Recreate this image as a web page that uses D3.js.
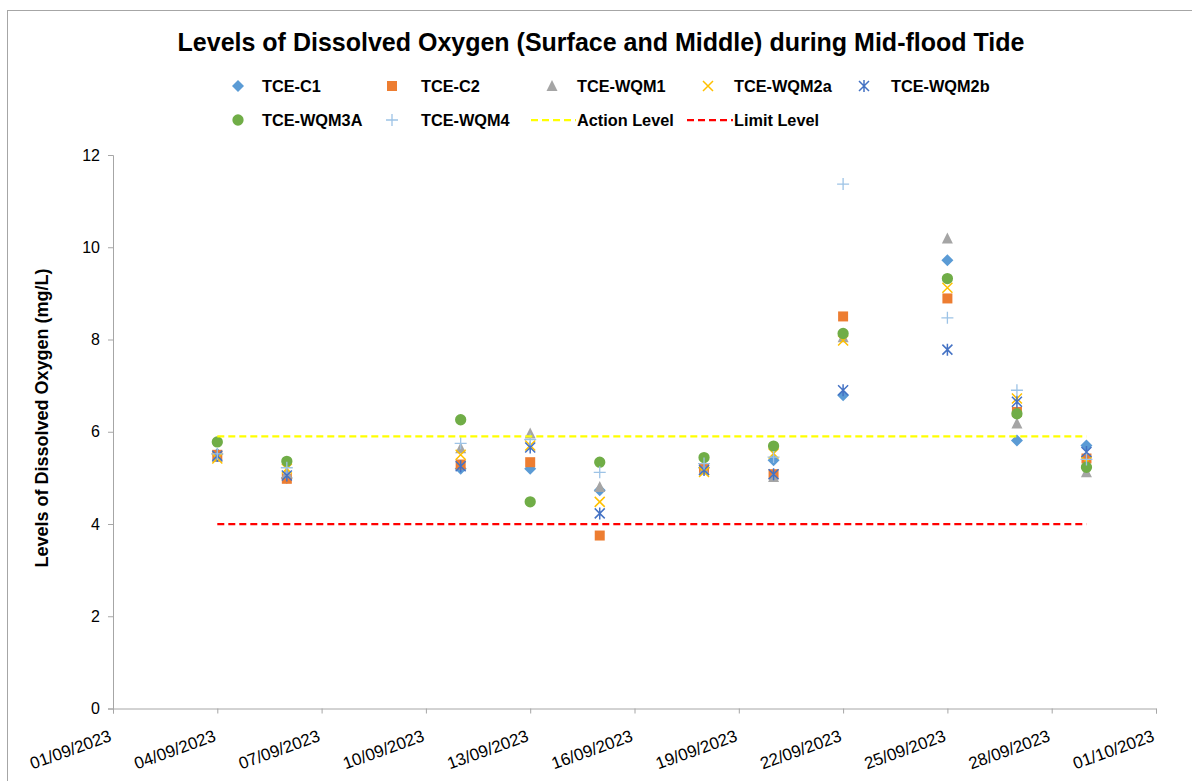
<!DOCTYPE html>
<html>
<head>
<meta charset="utf-8">
<script src="https://cdn.jsdelivr.net/npm/d3@7"></script>
<style>
  body { margin: 0; background: #fff; }
  text { font-family: "Liberation Sans", Arial, sans-serif; }
</style>
</head>
<body>
<svg id="js-svg" width="1192" height="781"></svg>
<script>
const width = 1192;
const height = 781;

// sampling days (dd/mm, 2023)
const sampleDates = ["04/09", "06/09", "11/09", "13/09", "15/09", "18/09", "20/09", "22/09", "25/09", "27/09", "29/09"];

const tceC1 = [5.52, 5.0, 5.2, 5.2, 4.73, 5.22, 5.38, 6.79, 9.72, 5.81, 5.7];
const tceC2 = [5.5, 4.98, 5.29, 5.34, 3.75, 5.2, 5.08, 8.5, 8.89, 6.43, 5.42];
const tceWqm1 = [5.45, 5.1, 5.64, 5.96, 4.8, 5.18, 5.02, 8.05, 10.19, 6.18, 5.12];
const tceWqm2a = [5.42, 5.2, 5.5, 5.7, 4.48, 5.13, 5.53, 7.98, 9.12, 6.72, 5.35];
const tceWqm2b = [5.48, 5.05, 5.25, 5.66, 4.23, 5.17, 5.08, 6.9, 7.78, 6.65, 5.56];
const tceWqm3a = [5.78, 5.36, 6.26, 4.48, 5.34, 5.44, 5.69, 8.13, 9.32, 6.39, 5.23];
const tceWqm4 = [5.52, 5.22, 5.75, 5.83, 5.12, 5.31, 5.45, 11.37, 8.47, 6.9, 5.4];

const actionLevel = 5.9;
const limitLevel = 4;
const levelDates = ["04/09", "29/09"];

const xTickLabels = ["01/09/2023", "04/09/2023", "07/09/2023", "10/09/2023", "13/09/2023", "16/09/2023",
  "19/09/2023", "22/09/2023", "25/09/2023", "28/09/2023", "01/10/2023"];
const yTickValues = [0, 2, 4, 6, 8, 10, 12];

const parseFull = d3.timeParse("%d/%m/%Y");
const parseDay = (s) => parseFull(s + "/2023");

const series = [
  { name: "TCE-C1", values: tceC1, shape: "diamond", color: "#5B9BD5" },
  { name: "TCE-C2", values: tceC2, shape: "square", color: "#ED7D31" },
  { name: "TCE-WQM1", values: tceWqm1, shape: "triangle", color: "#A5A5A5" },
  { name: "TCE-WQM2a", values: tceWqm2a, shape: "x", color: "#FFC000" },
  { name: "TCE-WQM2b", values: tceWqm2b, shape: "star", color: "#4472C4" },
  { name: "TCE-WQM3A", values: tceWqm3a, shape: "circle", color: "#70AD47" },
  { name: "TCE-WQM4", values: tceWqm4, shape: "plus", color: "#9DC3E6" }
];

const svg = d3.select("#js-svg");

// chart border (runs off the picture at right/bottom)
svg.append("rect")
  .attr("x", 7.5).attr("y", 10.5)
  .attr("width", width + 20).attr("height", height + 20)
  .style("fill", "none")
  .style("stroke", "#a6a6a6")
  .style("stroke-width", "1px");

const x = d3.scaleTime()
  .domain([parseFull("01/09/2023"), parseFull("01/10/2023")])
  .range([113, 1156]);
const y = d3.scaleLinear().domain([0, 12]).range([708.5, 155]);

// title
svg.append("text")
  .attr("x", 601).attr("y", 51)
  .attr("text-anchor", "middle")
  .style("font-size", "25px")
  .style("font-weight", "bold")
  .text("Levels of Dissolved Oxygen (Surface and Middle) during Mid-flood Tide");

// axes
const yAxis = svg.append("g")
  .attr("transform", "translate(113,0)")
  .call(d3.axisLeft(y).tickValues(yTickValues).tickSize(5).tickPadding(8));
const xAxis = svg.append("g")
  .attr("transform", `translate(0,${y(0)})`)
  .call(d3.axisBottom(x).tickValues(xTickLabels.map(parseFull)).tickSize(5)
    .tickFormat(d3.timeFormat("%d/%m/%Y")));

[yAxis, xAxis].forEach((ax) => {
  ax.select(".domain").attr("stroke", "#a6a6a6");
  ax.selectAll(".tick line").attr("stroke", "#a6a6a6");
  ax.selectAll(".tick text")
    .style("font-size", "16px")
    .style("font-family", "'Liberation Sans', Arial, sans-serif")
    .attr("fill", "#000");
});
xAxis.selectAll(".tick text")
  .style("font-size", "17px")
  .attr("text-anchor", "end")
  .attr("dy", null)
  .attr("y", 0)
  .attr("transform", "translate(-1,32) rotate(-20)");

// y axis title
svg.append("text")
  .attr("transform", `translate(48,418) rotate(-90)`)
  .attr("text-anchor", "middle")
  .style("font-size", "18px")
  .style("font-weight", "bold")
  .text("Levels of Dissolved Oxygen (mg/L)");

const markerPath = (shape) => {
  switch (shape) {
    case "diamond": return "M0,-6L6,0L0,6L-6,0Z";
    case "square": return d3.symbol(d3.symbolSquare, 100)();
    case "triangle": return "M0,-6L5.5,5L-5.5,5Z";
    case "circle": return d3.symbol(d3.symbolCircle, 100)();
    case "x": return "M-5,-5L5,5M-5,5L5,-5";
    case "star": return "M-5,-5L5,5M-5,5L5,-5M0,-6L0,6";
    case "plus": return "M-6,0L6,0M0,-6L0,6";
  }
};
const isStroke = (shape) => ["x", "star", "plus"].includes(shape);

const drawMarker = (sel, s) => {
  sel.append("path")
    .attr("d", markerPath(s.shape))
    .style("fill", isStroke(s.shape) ? "none" : s.color)
    .style("stroke", isStroke(s.shape) ? s.color : "none")
    .style("stroke-width", s.shape === "plus" ? "1.3px" : "1.5px");
};

// scatter series
series.forEach((s) => {
  svg.append("g")
    .attr("class", "series")
    .selectAll("g")
    .data(s.values.map((v, i) => ({ date: parseDay(sampleDates[i]), value: v })))
    .join("g")
    .attr("transform", (d) => `translate(${x(d.date)},${y(d.value)})`)
    .each(function () { drawMarker(d3.select(this), s); });
});

// action / limit lines
const levelLines = [
  { name: "Action Level", value: actionLevel, color: "#FFFF00" },
  { name: "Limit Level", value: limitLevel, color: "#FF0000" }
];
levelLines.forEach((l) => {
  svg.append("line")
    .attr("x1", x(parseDay(levelDates[0])))
    .attr("x2", x(parseDay(levelDates[1])))
    .attr("y1", y(l.value))
    .attr("y2", y(l.value))
    .style("stroke", l.color)
    .style("stroke-width", "2.25px")
    .style("stroke-dasharray", "7,4");
});

// legend
const legendItems = [
  { s: series[0], mx: 238, tx: 262, ty: 86 },
  { s: series[1], mx: 392, tx: 421, ty: 86 },
  { s: series[2], mx: 552, tx: 577, ty: 86 },
  { s: series[3], mx: 708, tx: 734, ty: 86 },
  { s: series[4], mx: 864, tx: 891, ty: 86 },
  { s: series[5], mx: 238, tx: 262, ty: 120 },
  { s: series[6], mx: 392, tx: 421, ty: 120 }
];
const legend = svg.append("g").attr("id", "legend");
legendItems.forEach((it) => {
  const g = legend.append("g").attr("transform", `translate(${it.mx},${it.ty})`);
  drawMarker(g, it.s);
  legend.append("text")
    .attr("x", it.tx).attr("y", it.ty + 6)
    .style("font-size", "16.3px")
    .style("font-weight", "bold")
    .text(it.s.name);
});
[{ l: levelLines[0], x1: 531, x2: 576, tx: 577 }, { l: levelLines[1], x1: 687, x2: 733, tx: 734 }]
  .forEach((it) => {
    legend.append("line")
      .attr("x1", it.x1).attr("x2", it.x2)
      .attr("y1", 120).attr("y2", 120)
      .style("stroke", it.l.color)
      .style("stroke-width", "2.25px")
      .style("stroke-dasharray", "7,4");
    legend.append("text")
      .attr("x", it.tx).attr("y", 126)
      .style("font-size", "16.3px")
      .style("font-weight", "bold")
      .text(it.l.name);
  });
</script>
</body>
</html>
